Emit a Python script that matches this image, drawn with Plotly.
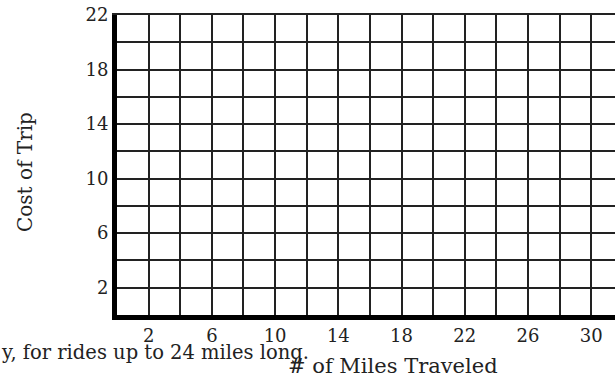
import plotly.graph_objects as go

# Axis data
x_tick_vals = [2, 6, 10, 14, 18, 22, 26, 30]
y_tick_vals = [2, 6, 10, 14, 18, 22]
x_range = [0, 31.5]
y_range = [0, 22]
grid_step = 2

x_title = "# of Miles Traveled"
y_title = "Cost of Trip"
stray_text = "y, for rides up to 24 miles long."

FONT = "DejaVu Serif"
W, H = 615, 376
L, R, T, B = 117, 0, 15, 61
GRID = "#222222"

fig = go.Figure()
# invisible traces to establish axes
fig.add_trace(go.Scatter(x=x_range, y=y_range, mode="markers",
                         marker=dict(opacity=0), hoverinfo="skip", showlegend=False))
fig.add_trace(go.Scatter(x=x_range, y=y_range, mode="markers", xaxis="x2",
                         marker=dict(opacity=0), hoverinfo="skip", showlegend=False))

common = dict(
    showline=True, linecolor="black", linewidth=5,
    showgrid=True, gridcolor=GRID, gridwidth=1.5,
    zeroline=False, ticks="",
    tickfont=dict(family=FONT, size=18, color="#222222"),
    fixedrange=True, automargin=False,
)

fig.update_layout(
    xaxis=dict(range=x_range, tickmode="array", tickvals=x_tick_vals,
               ticktext=[str(v) for v in x_tick_vals],
               minor=dict(dtick=grid_step, tick0=0, showgrid=True,
                          gridcolor=GRID, gridwidth=1.5),
               ticklabelstandoff=0, **common),
    yaxis=dict(range=y_range, tickmode="array", tickvals=y_tick_vals,
               ticktext=[str(v) for v in y_tick_vals],
               minor=dict(dtick=grid_step, tick0=0, showgrid=True,
                          gridcolor=GRID, gridwidth=1.5),
               ticklabelstandoff=0, **common),
    # top border line of the grid
    xaxis2=dict(range=x_range, overlaying="x", side="top", showline=True,
                linecolor=GRID, linewidth=1.5, showgrid=False, zeroline=False,
                showticklabels=False, ticks="", fixedrange=True, automargin=False),
)

pw = W - L - R
ph = H - T - B
def px2paper_x(px):
    return (px - L) / pw
def px2paper_y(py):
    return (H - B - py) / ph

fig.add_annotation(text=y_title, textangle=-90, showarrow=False,
                   xref="paper", yref="paper", x=px2paper_x(25), y=px2paper_y(172),
                   xanchor="center", yanchor="middle",
                   font=dict(family=FONT, size=20, color="#222222"))
fig.add_annotation(text=stray_text, showarrow=False,
                   xref="paper", yref="paper", x=px2paper_x(311), y=px2paper_y(352),
                   xanchor="right", yanchor="middle",
                   font=dict(family=FONT, size=19.5, color="#222222"))
fig.add_annotation(text=x_title, showarrow=False,
                   xref="paper", yref="paper", x=px2paper_x(393), y=px2paper_y(366),
                   xanchor="center", yanchor="middle",
                   font=dict(family=FONT, size=21, color="#222222"))

fig.update_layout(
    width=W, height=H,
    margin=dict(l=L, r=R, t=T, b=B, pad=0, autoexpand=False),
    plot_bgcolor="white", paper_bgcolor="white",
    showlegend=False,
)

fig.write_html("out.html", config={"displayModeBar": False},
               post_script="document.body.style.margin='0';document.body.style.overflow='hidden';")
